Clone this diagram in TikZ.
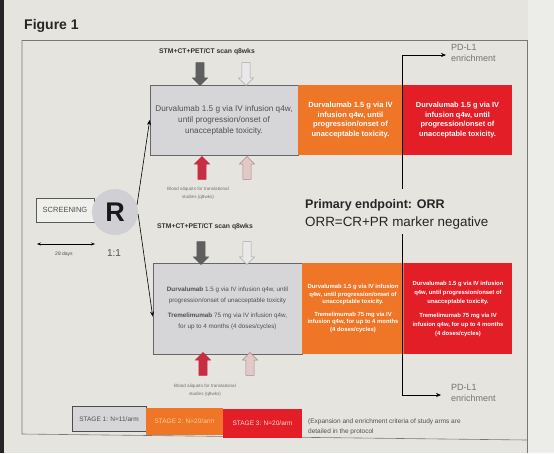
\documentclass[tikz,border=0pt]{standalone}
\usepackage{fontspec}
\setmainfont{Liberation Sans}
\usetikzlibrary{shapes.arrows,arrows.meta}
\definecolor{paper}{RGB}{229,228,223}
\definecolor{paperR}{RGB}{236,236,233}
\definecolor{gbox}{RGB}{214,213,215}
\definecolor{gtext}{RGB}{80,80,80}
\definecolor{orng}{RGB}{238,118,38}
\definecolor{rred}{RGB}{228,30,38}
\definecolor{rcirc}{RGB}{208,208,212}
\definecolor{darkarr}{RGB}{95,95,95}
\definecolor{lightarr}{RGB}{234,232,232}
\definecolor{redarr}{RGB}{200,45,65}
\definecolor{pinkarr}{RGB}{228,200,200}
\definecolor{framec}{RGB}{120,120,120}
\begin{document}
\begin{tikzpicture}[x=1pt,y=-1pt,
  box/.style={rectangle, inner sep=2pt, align=center},
  graybox/.style={box, fill=gbox, draw=gray!80!black, line width=0.6pt, text=gtext},
  orbox/.style={box, fill=orng, text=white, font=\bfseries},
  rdbox/.style={box, fill=rred, text=white, font=\bfseries},
  blk/.style={single arrow, minimum height=23pt, minimum width=15pt, inner sep=3.8pt, single arrow head extend=3.5pt, line width=0.5pt},
  dnarr/.style={blk, shape border rotate=270},
  uparr/.style={blk, shape border rotate=90},
  conn/.style={draw=black, line width=0.6pt, -{Stealth[length=5pt,width=4pt]}},
  lbl/.style={inner sep=0pt, align=center}
]
\useasboundingbox (0,0) rectangle (554,453);
\fill[paper] (0,0) rectangle (554,453);
\fill[paperR] (528,0) rectangle (554,453);
\fill[black!85] (0,0) rectangle (4,453);
\draw[framec, line width=0.6pt] (22,40) -- (527,40) -- (527,453);
\draw[framec, line width=0.6pt] (22,40) -- (22,434) -- (527,440);

\node[lbl, anchor=west, font=\bfseries\fontsize{14}{16}\selectfont, text=black!85] (title) at (24,26) {Figure 1};

% screening and randomisation
\node[box, draw=gray!70!black, fill=paper!60!white, minimum width=58pt, minimum height=24pt, text=gtext, font=\fontsize{7.5}{9}\selectfont] (scr) at (65,210) {SCREENING};
\node[circle, fill=rcirc, minimum size=46pt, inner sep=0pt, font=\bfseries\fontsize{27}{27}\selectfont, text=black!90] (R) at (115,212) {R};
\node[lbl, font=\fontsize{10}{12}\selectfont, text=gtext] (ratio) at (114,253) {1:1};
\coordinate (d1) at (37,244);
\coordinate (d2) at (95,244);
\draw[line width=0.6pt, {Stealth[length=4pt,width=3pt]}-{Stealth[length=4pt,width=3pt]}] (d1) -- (d2);
\node[lbl, font=\fontsize{5}{6}\selectfont, text=gtext] (days) at (64,254) {28 days};

% top arm
\node[graybox, minimum width=148pt, minimum height=70pt, font=\fontsize{8.2}{11}\selectfont] (g1) at (224,120)
  {Durvalumab 1.5 g via IV infusion q4w,\\until progression/onset of\\unacceptable toxicity.};
\node[orbox, minimum width=105pt, minimum height=70pt, font=\bfseries\fontsize{7.5}{9.6}\selectfont] (o1) at (350.5,120)
  {Durvalumab 1.5 g via IV\\infusion q4w, until\\progression/onset of\\unacceptable toxicity.};
\node[rdbox, minimum width=109pt, minimum height=70pt, font=\bfseries\fontsize{7.4}{9.8}\selectfont] (r1) at (457.5,120)
  {Durvalumab 1.5 g via IV\\infusion q4w, until\\progression/onset of\\unacceptable toxicity.};

% bottom arm
\node[graybox, minimum width=149pt, minimum height=91pt, font=\fontsize{6.3}{11}\selectfont] (g2) at (227.5,308.5)
  {{\bfseries Durvalumab} 1.5 g via IV infusion q4w, until\\progression/onset of unacceptable toxicity\\[4pt]{\bfseries Tremelimumab} 75 mg via IV infusion q4w,\\for up to 4 months (4 doses/cycles)};
\node[orbox, minimum width=102pt, minimum height=91pt, font=\bfseries\fontsize{5.9}{7.6}\selectfont] (o2) at (353,308.5)
  {Durvalumab 1.5 g via IV infusion\\q4w, until progression/onset of\\unacceptable toxicity.\\[5pt]Tremelimumab 75 mg via IV\\infusion q4w, for up to 4 months\\(4 doses/cycles)};
\node[rdbox, minimum width=108pt, minimum height=91pt, font=\bfseries\fontsize{5.9}{9}\selectfont] (r2) at (458,308.5)
  {Durvalumab 1.5 g via IV infusion\\q4w, until progression/onset of\\unacceptable toxicity.\\[5pt]Tremelimumab 75 mg via IV\\infusion q4w, for up to 4 months\\(4 doses/cycles)};

% randomisation connectors
\draw[conn] (R.18) -- (g1.west);
\draw[conn] (R.-5) -- ([yshift=-8pt]g2.west);

% scan / blood arrows top
\node[lbl, font=\bfseries\fontsize{6.8}{8}\selectfont, text=black!80] (scan1) at (207,52) {STM+CT+PET/CT scan q8wks};
\node[dnarr, fill=darkarr, draw=darkarr] (a1) at (200,72) {};
\node[dnarr, fill=lightarr, draw=gray!70] (a2) at (246,72) {};
\node[uparr, fill=redarr, draw=redarr] (a3) at (202,170) {};
\node[uparr, fill=pinkarr, draw=pinkarr!70!black] (a4) at (247,170) {};
\node[lbl, font=\fontsize{4.6}{8}\selectfont, text=gray!90!black] (blood1) at (198,193) {Blood aliquots for translational\\studies (q8wks)};

\node[lbl, font=\bfseries\fontsize{6.8}{8}\selectfont, text=black!80] (scan2) at (205,227) {STM+CT+PET/CT scan q8wks};
\node[dnarr, fill=darkarr, draw=darkarr] (a5) at (201,251) {};
\node[dnarr, fill=lightarr, draw=gray!70] (a6) at (247,251) {};
\node[uparr, fill=redarr, draw=redarr] (a7) at (203,366) {};
\node[uparr, fill=pinkarr, draw=pinkarr!70!black] (a8) at (250,366) {};
\node[lbl, font=\fontsize{4.6}{8}\selectfont, text=gray!90!black] (blood2) at (205,390) {Blood aliquots for translational\\studies (q8wks)};

% primary endpoint
\node[lbl, anchor=west, align=left, font=\fontsize{13.4}{18}\selectfont, text=black!85] (pe) at (305,214)
  {{\fontsize{12.5}{18}\selectfont\bfseries Primary endpoint: ORR}\\ORR=CR+PR marker negative};

% PD-L1 enrichment
\node[lbl, anchor=north west, align=left, font=\fontsize{9}{11}\selectfont, text=gray!90!black] (pd1) at (451,44) {PD-L1\\enrichment};
\node[lbl, anchor=north west, align=left, font=\fontsize{9}{11}\selectfont, text=gray!90!black] (pd2) at (451,384) {PD-L1\\enrichment};
\coordinate (v1) at (402,189);
\coordinate (vt) at (402,55);
\coordinate (t1) at (446,55);
\coordinate (v2) at (402,234);
\coordinate (vb) at (402,395);
\coordinate (t2) at (441,395);
\draw[conn] (v1) -- (vt) -- (t1);
\draw[conn] (v2) -- (vb) -- (t2);

% legend
\node[box, fill=gbox, draw=gray!60!black, line width=0.5pt, minimum width=74pt, minimum height=25pt, text=gtext, font=\fontsize{6.5}{8}\selectfont] (l1) at (109,419) {STAGE 1: N=11/arm};
\node[box, fill=orng, minimum width=77pt, minimum height=27pt, text=orange!40!white, font=\fontsize{6.5}{8}\selectfont] (l2) at (184.5,421) {STAGE 2: N=20/arm};
\node[box, fill=rred, minimum width=79pt, minimum height=29pt, text=red!15!white, font=\fontsize{6.5}{8}\selectfont] (l3) at (262.5,423) {STAGE 3: N=20/arm};
\node[lbl, anchor=west, align=left, font=\fontsize{6.5}{10}\selectfont, text=gtext] (note) at (308,427)
  {(Expansion and enrichment criteria of study arms are\\detailed in the protocol};
\end{tikzpicture}
\end{document}
